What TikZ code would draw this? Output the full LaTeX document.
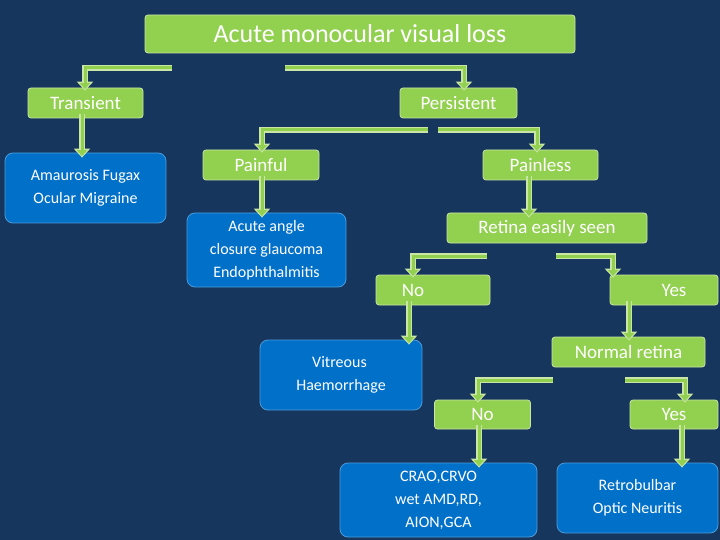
\documentclass[tikz,border=0pt]{standalone}
\usepackage{fontspec}
\setmainfont{Carlito}
\usetikzlibrary{arrows.meta}
\definecolor{bg}{HTML}{17365D}
\definecolor{gr}{HTML}{92D050}
\definecolor{grl}{HTML}{C9E6A6}
\definecolor{bl}{HTML}{0070C8}
\begin{document}
\begin{tikzpicture}[x=1pt,y=-1pt,
  gbox/.style={fill=gr,draw=grl,line width=0.8pt,rounded corners=3pt,text=white,font=\fontsize{19}{21}\selectfont,inner sep=0pt},
  bbox/.style={fill=bl,draw=bl!70!white,line width=0.8pt,rounded corners=8pt,text=white,font=\fontsize{16}{23}\selectfont,align=center,inner sep=0pt},
  outa/.style={draw=grl,line width=6pt,-{Triangle[length=9pt,width=16pt]}},
  ina/.style={draw=gr,line width=3pt,-{Triangle[length=6pt,width=10pt]},shorten >=1.5pt}]
\fill[bg] (0,0) rectangle (720,540);
\useasboundingbox (0,0) rectangle (720,540);
\newcommand\arr[1]{\draw[outa] #1; \draw[ina] #1;}
\node[gbox,minimum width=430,minimum height=38,font=\fontsize{26}{28}\selectfont] (title) at (360,34) {Acute monocular visual loss};
\node[gbox,minimum width=115,minimum height=30] (tran) at (85.5,103) {Transient};
\node[gbox,minimum width=117,minimum height=30] (pers) at (458.5,103) {Persistent};
\node[bbox,minimum width=161,minimum height=70] (amau) at (85.5,188) {Amaurosis Fugax\\Ocular Migraine};
\node[gbox,minimum width=116,minimum height=30] (painf) at (261,165) {Painful};
\node[gbox,minimum width=115,minimum height=30] (painl) at (540.5,165) {Painless};
\node[bbox,minimum width=159,minimum height=74] (acute) at (266.5,250) {Acute angle\\closure glaucoma\\Endophthalmitis};
\node[gbox,minimum width=200,minimum height=30] (ret) at (547,228) {Retina easily seen};
\node[gbox,minimum width=114,minimum height=30] (no1) at (433,290) {\hspace*{-40pt}No};
\node[gbox,minimum width=108,minimum height=30] (yes1) at (664,290) {\hspace*{20pt}Yes};
\node[bbox,minimum width=162,minimum height=70] (vitr) at (341,375) {\hspace*{-3pt}Vitreous\\Haemorrhage};
\node[gbox,minimum width=153,minimum height=30] (norm) at (628.5,352) {Normal retina};
\node[gbox,minimum width=96,minimum height=29] (no2) at (482.5,414.5) {No};
\node[gbox,minimum width=88,minimum height=29] (yes2) at (674,414.5) {Yes};
\node[bbox,minimum width=197,minimum height=74] (crao) at (438.5,500) {CRAO,CRVO\\wet AMD,RD,\\AION,GCA};
\node[bbox,minimum width=161,minimum height=70] (retro) at (637.5,498) {Retrobulbar\\Optic Neuritis};
\arr{(172,68) -| ([yshift=-3pt]tran.north -| 85,0)}
\arr{(285,68) -| ([yshift=-3pt]pers.north -| 464,0)}
\arr{([yshift=4pt]tran.south -| 82,0) -- ([yshift=-5pt]amau.north -| 82,0)}
\arr{(428,130) -| ([yshift=-3pt]painf.north -| 262,0)}
\arr{(438,130) -| ([yshift=-3pt]painl.north -| 537,0)}
\arr{([yshift=4pt]painf.south -| 262,0) -- ([yshift=-5pt]acute.north -| 262,0)}
\arr{([yshift=4pt]painl.south -| 529,0) -- ([yshift=-5pt]ret.north -| 529,0)}
\arr{(487,256) -| ([yshift=-3pt]no1.north -| 413,0)}
\arr{(556,256) -| ([yshift=-3pt]yes1.north -| 613,0)}
\arr{([yshift=4pt]no1.south -| 409,0) -- ([yshift=-5pt]vitr.north -| 409,0)}
\arr{([yshift=4pt]yes1.south -| 629,0) -- ([yshift=-4pt]norm.north -| 629,0)}
\arr{(553,380) -| ([yshift=-3pt]no2.north -| 478,0)}
\arr{(625,380) -| ([yshift=-3pt]yes2.north -| 685,0)}
\arr{([yshift=4pt]no2.south -| 479,0) -- ([yshift=-5pt]crao.north -| 479,0)}
\arr{([yshift=4pt]yes2.south -| 682,0) -- ([yshift=-5pt]retro.north -| 682,0)}
\end{tikzpicture}
\end{document}
